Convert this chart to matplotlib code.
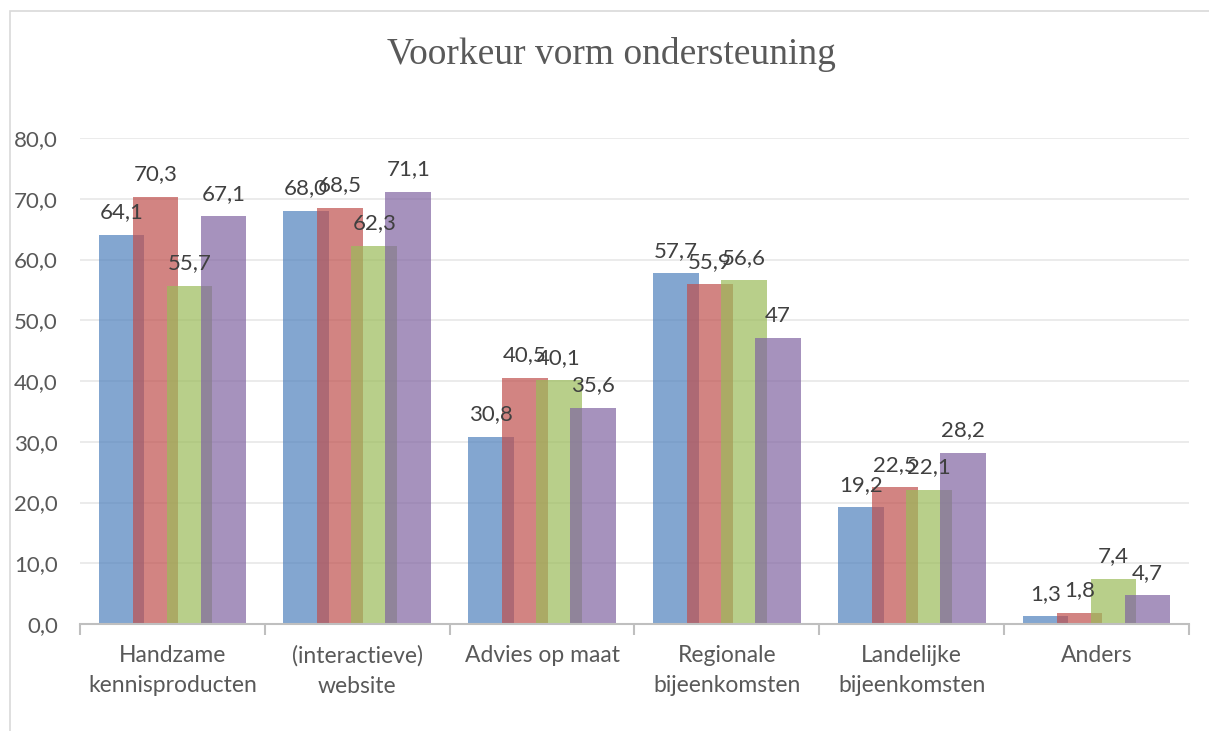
import matplotlib
matplotlib.use("Agg")
import matplotlib.pyplot as plt
from matplotlib.patches import Rectangle
import numpy as np

categories = ["Handzame\nkennisproducten", "(interactieve)\nwebsite", "Advies op maat",
              "Regionale\nbijeenkomsten", "Landelijke\nbijeenkomsten", "Anders"]
series1 = [64.1, 68.0, 30.8, 57.7, 19.2, 1.3]
series2 = [70.3, 68.5, 40.5, 55.9, 22.5, 1.8]
series3 = [55.7, 62.3, 40.1, 56.6, 22.1, 7.4]
series4 = [67.1, 71.1, 35.6, 47.0, 28.2, 4.7]
label_texts = [
    ["64,1", "68,0", "30,8", "57,7", "19,2", "1,3"],
    ["70,3", "68,5", "40,5", "55,9", "22,5", "1,8"],
    ["55,7", "62,3", "40,1", "56,6", "22,1", "7,4"],
    ["67,1", "71,1", "35,6", "47", "28,2", "4,7"],
]
yticks = [0, 10, 20, 30, 40, 50, 60, 70, 80]
ytick_labels = ["0,0", "10,0", "20,0", "30,0", "40,0", "50,0", "60,0", "70,0", "80,0"]
title = "Voorkeur vorm ondersteuning"

colors = ["#4F81BD", "#C0504D", "#9BBB59", "#8064A2"]
font = ["Lato", "DejaVu Sans"]

fig = plt.figure(figsize=(12.09, 7.31), dpi=100)
fig.patches.append(Rectangle((10 / 1209, -0.1), 2, (731 - 11) / 731 + 0.1,
                             transform=fig.transFigure, fill=False,
                             edgecolor="#D9D9D9", linewidth=1.2))
ax = fig.add_axes([80 / 1209, 1 - 624 / 731, (1189 - 80) / 1209, (624 - 138) / 731])

x = np.arange(len(categories))
width = 0.247
step = 0.184
all_series = [series1, series2, series3, series4]
for i, (vals, col) in enumerate(zip(all_series, colors)):
    offs = (i - 1.5) * step
    ax.bar(x + offs, vals, width=width, color=col, alpha=0.7, linewidth=0, zorder=3)
    for xi, v, t in zip(x, vals, label_texts[i]):
        ax.annotate(t, (xi + offs, v), xytext=(0, 9), textcoords="offset points",
                    ha="center", va="bottom", fontsize=16, color="#404040",
                    family=font, zorder=5)

ax.set_xlim(-0.5, len(categories) - 0.5)
ax.set_ylim(0, 80)
ax.set_yticks(yticks)
ax.set_yticklabels(ytick_labels, fontsize=16, color="#595959", family=font)
ax.tick_params(axis="y", length=0, pad=16)
ax.set_xticks(x)
ax.set_xticklabels(categories, fontsize=16.5, color="#595959", family=font, linespacing=1.55)
ax.tick_params(axis="x", length=0, pad=15)
ax.set_xticks(np.arange(-0.5, len(categories)), minor=True)
ax.tick_params(axis="x", which="minor", length=8, color="#BFBFBF", width=1.5)
ax.grid(axis="y", color="#E8E8E8", linewidth=1.2, zorder=0)
for s in ["top", "right", "left"]:
    ax.spines[s].set_visible(False)
ax.spines["bottom"].set_color("#BFBFBF")
ax.spines["bottom"].set_linewidth(1.5)
ax.spines["bottom"].set_zorder(4)

fig.text(0.506, 1 - 55 / 731, title, ha="center", va="center", fontsize=27,
         color="#595959", family=["Liberation Serif", "DejaVu Serif"])

fig.savefig("out.png", dpi=100)
